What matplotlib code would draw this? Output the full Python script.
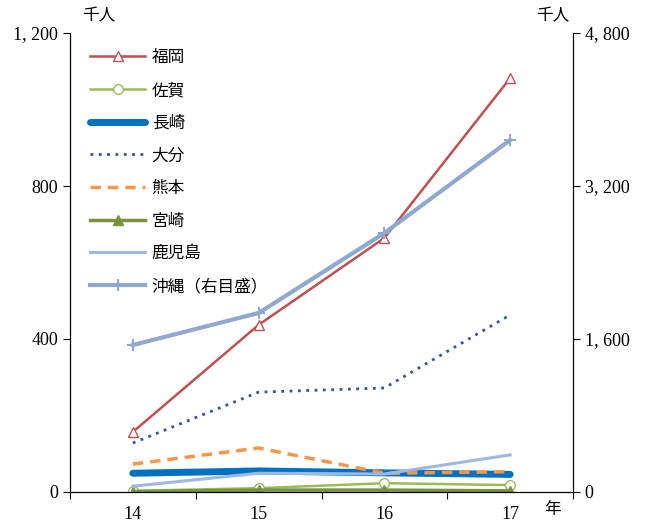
import matplotlib.pyplot as plt
from matplotlib.ticker import FuncFormatter

plt.rcParams['font.family'] = ['Liberation Serif', 'Noto Sans CJK JP']

years = ["14", "15", "16", "17"]
fukuoka = [157, 437, 664, 1082]
saga = [3, 10, 23, 18]
nagasaki = [49, 55, 50, 46]
oita = [128, 261, 272, 463]
kumamoto = [73, 115, 49, 53]
miyazaki = [1, 5, 5, 3]
kagoshima = [15, 49, 47, 97]
okinawa = [1537, 1872, 2708, 3681]  # right axis

x = range(len(years))

fig = plt.figure(figsize=(6.56, 5.24), dpi=100)
ax = fig.add_axes([0.1067, 0.0611, 0.7668, 0.8759])
ax2 = ax.twinx()

h = []
h += ax.plot(x, fukuoka, color="#C0504D", lw=1.8, marker="^", ms=7, mfc="white", mec="#C0504D", label="福岡")
h += ax.plot(x, saga, color="#9BBB59", lw=1.8, marker="o", ms=7, mfc="white", mec="#9BBB59", label="佐賀")
h += ax.plot(x, nagasaki, color="#0070C0", lw=5, solid_capstyle="round", label="長崎")
h += ax.plot(x, oita, color="#2F5597", lw=2, ls=(0, (1, 2)), label="大分")
h += ax.plot(x, kumamoto, color="#F79646", lw=2.5, ls=(0, (3, 2)), label="熊本")
h += ax.plot(x, miyazaki, color="#77933C", lw=2.5, marker="^", ms=7, label="宮崎")
h += ax.plot(x, kagoshima, color="#9DB9E0", lw=2.2, label="鹿児島")
h += ax2.plot(x, okinawa, color="#8FA8D0", lw=3, marker="+", ms=9, mew=1.5, label="沖縄（右目盛）")

ax.set_xlim(-0.5, 3.5)
ax.set_ylim(0, 1200)
ax2.set_ylim(0, 4800)
ax.set_yticks([0, 400, 800, 1200])
ax2.set_yticks([0, 1600, 3200, 4800])
fmt = FuncFormatter(lambda v, p: "{:,}".format(int(v)).replace(",", ", "))
ax.yaxis.set_major_formatter(fmt)
ax2.yaxis.set_major_formatter(fmt)

ax.set_xticks([-0.5, 0.5, 1.5, 2.5, 3.5])
ax.set_xticklabels([])
ax.set_xticks(list(x), minor=True)
ax.set_xticklabels(years, minor=True)
ax.tick_params(axis="x", which="minor", length=0, pad=10, labelsize=13)
ax.tick_params(axis="x", which="major", length=5, direction="out")
ax.tick_params(axis="y", length=5, direction="out", labelsize=13)
ax2.tick_params(axis="y", length=5, direction="out", labelsize=13)

for a in (ax, ax2):
    a.spines["top"].set_visible(False)

fig.text(0.15, 0.968, "千人", fontsize=12, ha="center", va="center")
fig.text(0.843, 0.968, "千人", fontsize=12, ha="center", va="center")
fig.text(0.843, 0.026, "年", fontsize=12, ha="center", va="center")

ax.legend(h, [l.get_label() for l in h], loc="upper left", bbox_to_anchor=(0.01, 0.995),
          frameon=False, fontsize=12, handlelength=3.3, labelspacing=1.0, handletextpad=0.4)

fig.savefig("out.png", dpi=100)
